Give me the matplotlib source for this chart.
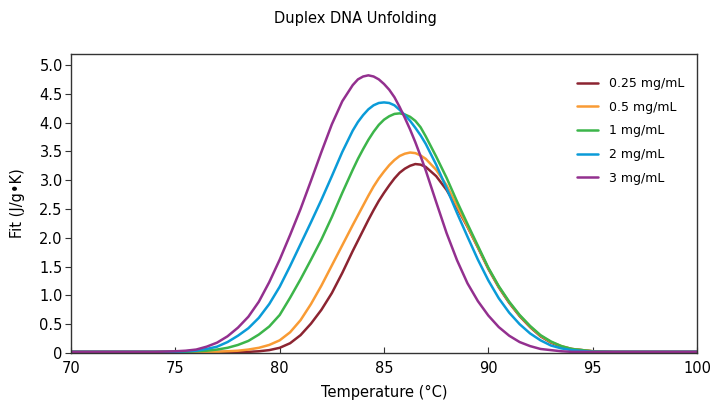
import matplotlib
matplotlib.use("Agg")
import matplotlib.pyplot as plt

plt.rcParams['font.family'] = ['DejaVu Sans']

temps = [70, 74, 75, 75.5, 76, 76.5, 77, 77.5, 78, 78.5, 79, 79.5, 80, 80.5, 81, 81.5, 82, 82.5,
         83, 83.5, 83.75, 84, 84.25, 84.5, 84.75, 85, 85.25, 85.5, 85.75, 86, 86.25, 86.5, 86.75,
         87, 87.5, 88, 88.5, 89, 89.5, 90, 90.5, 91, 91.5, 92, 92.5, 93, 93.5, 94, 95, 96, 98, 100]

fit_025 = [0.02, 0.02, 0.02, 0.02, 0.02, 0.02, 0.02, 0.02, 0.02, 0.02, 0.03, 0.05, 0.09, 0.17, 0.31, 0.51, 0.75, 1.04,
           1.39, 1.77, 1.95, 2.13, 2.31, 2.48, 2.64, 2.78, 2.91, 3.03, 3.13, 3.20, 3.25, 3.28, 3.27,
           3.23, 3.07, 2.83, 2.52, 2.19, 1.83, 1.46, 1.14, 0.87, 0.64, 0.45, 0.29, 0.18, 0.11, 0.07, 0.03, 0.02, 0.02, 0.02]
fit_05 = [0.02, 0.02, 0.02, 0.02, 0.02, 0.02, 0.02, 0.03, 0.04, 0.06, 0.09, 0.14, 0.22, 0.36, 0.57, 0.85, 1.17, 1.52,
          1.87, 2.22, 2.39, 2.56, 2.73, 2.89, 3.03, 3.15, 3.26, 3.35, 3.42, 3.46, 3.48, 3.47, 3.43,
          3.37, 3.18, 2.91, 2.55, 2.20, 1.84, 1.47, 1.15, 0.88, 0.65, 0.46, 0.30, 0.19, 0.12, 0.07, 0.03, 0.02, 0.02, 0.02]
fit_1 = [0.02, 0.02, 0.02, 0.02, 0.03, 0.04, 0.06, 0.09, 0.14, 0.21, 0.32, 0.46, 0.66, 0.96, 1.28, 1.62, 1.97, 2.36,
         2.78, 3.18, 3.37, 3.54, 3.70, 3.84, 3.96, 4.05, 4.11, 4.15, 4.16, 4.14, 4.10, 4.03, 3.92,
         3.76, 3.41, 3.04, 2.63, 2.24, 1.86, 1.48, 1.16, 0.89, 0.66, 0.47, 0.31, 0.20, 0.12, 0.07, 0.03, 0.02, 0.02, 0.02]
fit_2 = [0.02, 0.02, 0.02, 0.03, 0.04, 0.07, 0.11, 0.19, 0.30, 0.43, 0.61, 0.85, 1.15, 1.51, 1.89, 2.27, 2.66, 3.07,
         3.49, 3.86, 4.01, 4.13, 4.23, 4.30, 4.34, 4.35, 4.34, 4.30, 4.22, 4.13, 4.03, 3.91, 3.78,
         3.63, 3.27, 2.86, 2.43, 2.02, 1.62, 1.26, 0.95, 0.70, 0.50, 0.34, 0.22, 0.13, 0.08, 0.05, 0.02, 0.02, 0.02, 0.02]
fit_3 = [0.02, 0.02, 0.03, 0.04, 0.06, 0.11, 0.18, 0.29, 0.44, 0.63, 0.89, 1.23, 1.62, 2.05, 2.50, 2.99, 3.49, 3.97,
         4.37, 4.65, 4.75, 4.80, 4.82, 4.80, 4.75, 4.67, 4.57, 4.44, 4.27, 4.08, 3.88, 3.66, 3.42,
         3.17, 2.62, 2.08, 1.61, 1.21, 0.90, 0.65, 0.45, 0.30, 0.19, 0.12, 0.07, 0.05, 0.03, 0.02, 0.02, 0.02, 0.02, 0.02]

labels = ['0.25 mg/mL', '0.5 mg/mL', '1 mg/mL', '2 mg/mL', '3 mg/mL']
colors = ['#8c2431', '#f99b34', '#3cb54a', '#0a9bd8', '#93308f']
series = [fit_025, fit_05, fit_1, fit_2, fit_3]

fig = plt.figure(figsize=(7.11, 4.08), dpi=100)
ax = fig.add_axes([0.0999, 0.1348, 0.8804, 0.7328])

for vals, lab, col in zip(series, labels, colors):
    ax.plot(temps, vals, color=col, lw=1.8, label=lab,
            solid_capstyle='round', solid_joinstyle='round')

ax.set_xlim(70, 100)
ax.set_ylim(0, 5.19)
ax.set_xticks([70, 75, 80, 85, 90, 95, 100])
ax.set_yticks([0, 0.5, 1.0, 1.5, 2.0, 2.5, 3.0, 3.5, 4.0, 4.5, 5.0])
ax.set_yticklabels(['0', '0.5', '1.0', '1.5', '2.0', '2.5', '3.0', '3.5', '4.0', '4.5', '5.0'])
ax.tick_params(axis='x', direction='in', length=4, labelsize=10.5, pad=6, color='#333333')
ax.tick_params(axis='y', direction='out', length=4, labelsize=10.5, pad=2, color='#333333')
for sp in ax.spines.values():
    sp.set_color('#333333')
    sp.set_linewidth(1.0)

ax.set_xlabel('Temperature (°C)', fontsize=10.5, labelpad=6)
ax.set_ylabel('Fit (J/g•K)', fontsize=10.5, labelpad=10)
fig.text(0.5, 0.955, 'Duplex DNA Unfolding', ha='center', va='center', fontsize=10.5)

ax.legend(loc='upper left', bbox_to_anchor=(0.79, 0.96), frameon=False, fontsize=9,
          handlelength=1.7, labelspacing=0.85, handletextpad=0.9)

fig.savefig('out.png', dpi=100)
